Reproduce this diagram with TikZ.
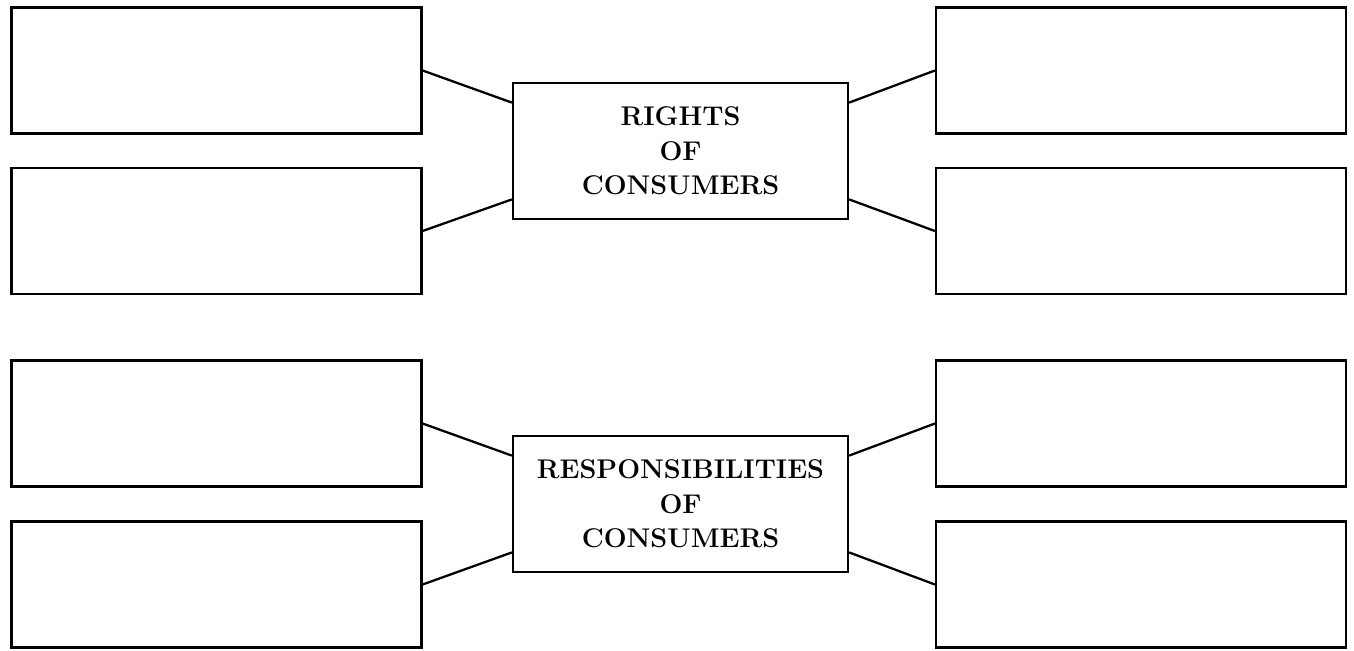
\documentclass[tikz,border=0pt]{standalone}
\usetikzlibrary{calc}
\begin{document}
\begin{tikzpicture}[x=0.02cm,y=-0.02cm,line width=1.3pt,
        blank/.style={draw,minimum width=8.2cm,minimum height=2.52cm},
        hub/.style={draw,minimum width=6.7cm,minimum height=2.72cm,align=center,font=\fontsize{15.4}{19.6}\selectfont\bfseries}]
        \useasboundingbox (0,0) rectangle (1354,650);
        \node[hub] (rights) at (680.5,151) {RIGHTS\\OF\\CONSUMERS};
        \node[hub] (duties) at (680.5,504) {RESPONSIBILITIES\\OF\\CONSUMERS};
        \node[blank] (rights1) at (216.5,70.5) {};
        \node[blank] (rights2) at (216.5,231) {};
        \node[blank] (rights3) at (1141,70.5) {};
        \node[blank] (rights4) at (1141,231) {};
        \node[blank] (duties1) at (216.5,423.5) {};
        \node[blank] (duties2) at (216.5,584.5) {};
        \node[blank] (duties3) at (1141,423.5) {};
        \node[blank] (duties4) at (1141,584.5) {};
        \foreach \h in {rights,duties}{
            \draw (\h1.east)--($(\h.north west)!.15!(\h.south west)$);
            \draw (\h2.east)--($(\h.south west)!.15!(\h.north west)$);
            \draw (\h3.west)--($(\h.north east)!.15!(\h.south east)$);
            \draw (\h4.west)--($(\h.south east)!.15!(\h.north east)$);
            }
    \end{tikzpicture}
\end{document}
